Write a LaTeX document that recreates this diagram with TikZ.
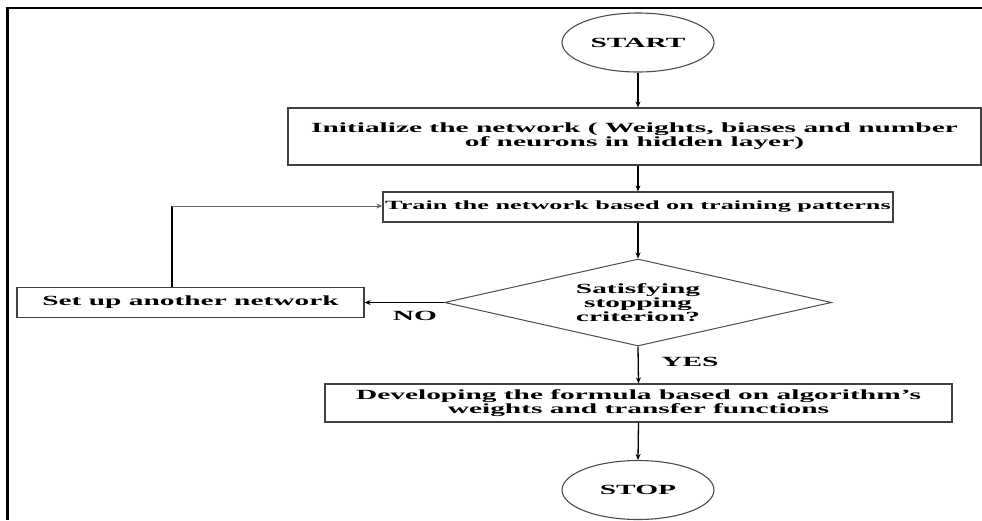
\documentclass[tikz,border=0pt]{standalone}
\usepackage{fontspec}
\setmainfont{Liberation Serif}[FakeStretch=2.1]
\usetikzlibrary{shapes.geometric,arrows.meta}
\begin{document}
\begin{tikzpicture}[x=1pt,y=-1pt,
    every node/.style={font=\bfseries\fontsize{14}{14}\selectfont, align=center},
    stepbox/.style={draw=black!75, line width=1.2pt, rectangle, inner sep=0pt},
    term/.style={draw=black!70, line width=1.1pt, ellipse, minimum width=152pt, minimum height=59pt, inner sep=0pt},
    decision/.style={draw=black!70, line width=1pt, diamond, aspect=4.45, minimum width=387pt, minimum height=87pt, inner sep=0pt},
    flow/.style={line width=1.3pt, -{Stealth[length=6pt,width=5pt]}}]
  \useasboundingbox (0,0) rectangle (982,520);
  % frame
  \draw[line width=2.5pt] (5.5,8) -- (982,8);
  \draw[line width=3pt] (7,8) -- (7,520);
  % steps
  \node[term] (start) at (638,42.5) {START};
  \node[stepbox, minimum width=693pt, minimum height=57pt] (init) at (634.5,136.5)
    {Initialize the network ( Weights, biases and number\\of neurons in hidden layer)};
  \node[stepbox, minimum width=510pt, minimum height=30pt, font=\bfseries\fontsize{12.5}{14}\selectfont] (train) at (638,207)
    {Train the network based on training patterns};
  \node[decision] (check) at (638,302.5) {Satisfying\\stopping\\criterion?};
  \node[stepbox, minimum width=347pt, minimum height=30pt] (setup) at (190.5,302.5)
    {Set up another network};
  \node[stepbox, minimum width=627pt, minimum height=38pt] (develop) at (638.5,403)
    {Developing the formula based on algorithm’s\\weights and transfer functions};
  \node[term] (stop) at (638,490) {STOP};
  % labels
  \node (no) at (415,316) {NO};
  \node (yes) at (690,362) {YES};
  % connectors
  \draw[flow] (start.south) -- (start.south |- init.north);
  \draw[flow] (train.north |- init.south) -- (train.north);
  \draw[flow] (train.south) -- (check.north);
  \draw[flow] (check.west) -- (setup.east);
  \draw[flow] (check.south) -- (develop.north);
  \draw[flow] (develop.south) -- (stop.north);
  \coordinate (bend) at (172,206);
  \draw[line width=2.5pt] (setup.north -| bend) -- (bend);
  \draw[draw=black!60, line width=0.8pt, -{Stealth[length=6pt,width=5pt]}] (bend) -- (train.west |- bend);
\end{tikzpicture}
\end{document}
